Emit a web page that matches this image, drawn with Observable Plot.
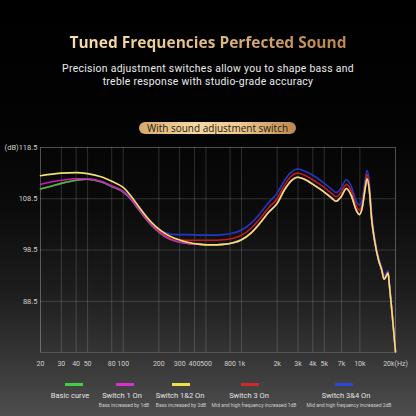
<!DOCTYPE html>
<html><head><meta charset="utf-8">
<script src="https://cdn.jsdelivr.net/npm/d3@7"></script>
<script src="https://cdn.jsdelivr.net/npm/@observablehq/plot@0.6"></script>
<style>
html,body{margin:0;padding:0;}
body{width:416px;height:416px;position:relative;overflow:hidden;font-family:"Open Sans","Noto Sans",sans-serif;
background:linear-gradient(180deg,#000 0%,#030303 30%,#0b0b0b 50%,#1d1d1d 70%,#363636 86%,#4e4e4e 100%);}
#title{position:absolute;left:0;width:416px;top:32px;text-align:center;font-size:15.5px;font-weight:700;line-height:20px;
background:linear-gradient(90deg,#f7dca6 25%,#e2bb82 50%,#bf8a52 78%);-webkit-background-clip:text;background-clip:text;color:transparent;}
.sub{position:absolute;left:0;width:416px;text-align:center;font-family:Roboto,sans-serif;font-size:10.4px;letter-spacing:0.3px;line-height:12px;height:12px;color:#ececec;white-space:nowrap;}
#pill{position:absolute;left:139px;top:121.5px;width:157px;height:12px;border-radius:6px;text-align:center;font-size:10px;line-height:12px;font-weight:500;color:#2a1a0a;
background:linear-gradient(90deg,#d6a86c 0%,#f4d8a4 35%,#ecc991 65%,#bb8750 100%);}
#chart{position:absolute;left:0;top:135px;}
.sw{position:absolute;height:3px;width:18px;top:382.5px;}
.lab{position:absolute;top:391px;font-size:7.5px;line-height:10px;color:#e4e4e4;white-space:nowrap;transform:translateX(-50%);font-family:Roboto,sans-serif;}
.sl{position:absolute;top:402px;font-size:5px;line-height:6px;color:#cfcfcf;white-space:nowrap;transform:translateX(-50%);font-family:Roboto,sans-serif;}
</style></head>
<body>
<div id="title">Tuned Frequencies Perfected Sound</div>
<div class="sub" style="top:63px">Precision adjustment switches allow you to shape bass and</div>
<div class="sub" style="top:75.5px">treble response with studio-grade accuracy</div>
<div id="pill">With sound adjustment switch</div>
<div id="chart"></div>
<div id="legend"></div>
<script>
const freqHz = [20,25,30,40,50,65,80,100,115,135,160,190,230,280,350,450,550,700,850,1000,1200,1450,1700,2000,2300,2600,3000,3400,4200,5000,5800,6300,6900,7700,8500,9300,9900,10500,11000,11500,12000,12600,13300,14400,15300,16000,16700,17300,17800,18500,19300,20000];

const basicCurve = [110.4,111.0,111.5,112.1,112.3,111.8,110.9,109.8,108.5,106.4,104.2,102.4,101.0,100.2,99.8,99.6,99.5,99.6,99.9,100.5,101.8,103.9,105.9,107.6,110.2,111.9,112.7,112.3,111.0,109.8,108.6,108.0,108.8,110.5,109.0,106.3,105.4,106.9,110.0,112.4,110.3,104.3,100.4,96.5,94.6,92.8,93.4,94.0,91.4,87.4,82.7,78.6];
const switch1On = [111.3,111.8,112.1,112.4,112.4,111.9,111.0,109.9,108.6,106.5,104.3,102.5,101.0,100.2,99.8,99.6,99.5,99.6,99.9,100.5,101.8,103.9,105.9,107.6,110.2,111.9,112.7,112.3,111.0,109.8,108.6,108.0,108.8,110.5,109.0,106.3,105.4,106.9,110.0,112.4,110.3,104.3,100.4,96.5,94.6,92.8,93.4,94.0,91.4,87.4,82.7,78.6];
const switch12On = [113.0,113.3,113.5,113.6,113.4,112.8,111.9,110.7,109.2,107.0,104.8,103.0,101.6,100.7,100.0,99.6,99.5,99.6,99.9,100.5,101.8,103.9,105.9,107.6,110.2,111.9,112.7,112.3,111.0,109.8,108.6,108.0,108.8,110.5,109.0,106.3,105.4,106.9,110.0,112.4,110.3,104.3,100.4,96.5,94.6,92.8,93.4,94.0,91.4,87.4,82.7,78.6];
const switch3On = [110.4,111.0,111.5,112.1,112.3,111.8,110.9,109.8,108.6,106.6,104.6,102.8,101.3,100.6,100.4,100.4,100.4,100.5,100.8,101.4,102.7,104.8,106.8,108.5,111.1,112.8,113.5,113.1,111.9,110.7,109.5,108.9,109.7,111.3,109.9,107.2,106.3,107.8,110.8,113.2,111.1,104.8,100.7,96.7,94.8,93.0,93.6,94.2,91.5,87.5,82.7,78.6];
const switch34On = [110.4,111.0,111.5,112.1,112.3,111.8,110.9,110.0,108.9,106.9,104.7,102.9,101.8,101.5,101.5,101.4,101.4,101.5,101.8,102.4,103.7,105.8,107.8,109.6,112.0,113.6,114.3,113.9,112.8,111.5,110.3,109.7,110.5,112.2,110.8,108.1,107.3,108.7,111.7,114.0,112.0,105.4,101.1,97.0,95.1,93.4,94.0,94.5,91.7,87.6,82.8,78.6];

const seriesNames = ["Switch 3&4 On","Switch 3 On","Basic curve","Switch 1 On","Switch 1&2 On"];
const seriesValues = [switch34On, switch3On, basicCurve, switch1On, switch12On];
const seriesColors = ["#2238c8","#c41c1c","#3cc03c","#cc1cbc","#f2e070"];

const xTicks = [20,30,40,50,80,100,200,300,400,500,800,1000,2000,3000,4000,5000,7000,10000,20000];
const xTickLabels = ["20","30","40","50","80","100","200","300","400","500","800","1k","2k","3k","4k","5k","7k","10k","20k(Hz)"];
const yTicks = [88.5,98.5,108.5,118.5];
const yTickLabels = ["88.5","98.5","108.5","(dB)118.5"];

const legendNames = ["Basic curve","Switch 1 On","Switch 1&2 On","Switch 3 On","Switch 3&4 On"];
const legendNotes = ["","Bass increased by 1dB","Bass increased by 2dB","Mid and high frequency increased 1dB","Mid and high frequency increased 2dB"];
const legendColors = ["#3fd03f","#d82fd0","#ece046","#d02828","#2a48d8"];

const rows = [];
seriesNames.forEach((name, s) => freqHz.forEach((f, i) => rows.push({series: name, f, db: seriesValues[s][i]})));
const xTickRows = xTicks.map((v, i) => ({v, label: xTickLabels[i]}));
const yTickRows = yTicks.map((v, i) => ({v, label: yTickLabels[i]}));

const chart = Plot.plot({
  width: 416, height: 240,
  marginLeft: 40, marginRight: 21, marginTop: 12, marginBottom: 23,
  style: {background: "transparent", color: "#cfcfcf", fontFamily: "Roboto, sans-serif", fontSize: "7px"},
  x: {type: "log", domain: [20, 20000], axis: null},
  y: {domain: [78.5, 118.5], axis: null},
  color: {domain: seriesNames, range: seriesColors},
  marks: [
    Plot.ruleX(xTickRows, {x: "v", stroke: "#ffffff", strokeOpacity: 0.16}),
    Plot.ruleY(yTickRows, {y: "v", stroke: "#ffffff", strokeOpacity: 0.16}),
    Plot.frame({stroke: "#ffffff", strokeOpacity: 0.16}),
    Plot.line(rows, {x: "f", y: "db", z: "series", stroke: "series", strokeWidth: 1.6, curve: "monotone-x"}),
    Plot.text(xTickRows, {x: "v", text: "label", frameAnchor: "bottom", dy: 11, lineAnchor: "middle", fill: "#cfcfcf", fontSize: 7}),
    Plot.text(yTickRows, {y: "v", text: "label", frameAnchor: "left", dx: -3, textAnchor: "end", lineAnchor: "middle", fill: "#cfcfcf", fontSize: 7.5})
  ]
});
document.getElementById("chart").appendChild(chart);

const swX = [74, 125, 180.5, 249.5, 344];
const labX = [70, 122, 180, 249, 346];
const noteX = [0, 124, 181, 254, 349];
const leg = document.getElementById("legend");
legendNames.forEach((n, i) => {
  const sw = document.createElement("div"); sw.className = "sw";
  sw.style.left = (swX[i] - 9) + "px"; sw.style.background = legendColors[i]; leg.appendChild(sw);
  const lb = document.createElement("div"); lb.className = "lab"; lb.style.left = labX[i] + "px"; lb.textContent = n; leg.appendChild(lb);
  if (legendNotes[i]) { const nt = document.createElement("div"); nt.className = "sl"; nt.style.left = noteX[i] + "px"; nt.textContent = legendNotes[i]; leg.appendChild(nt); }
});
</script>
</body></html>
